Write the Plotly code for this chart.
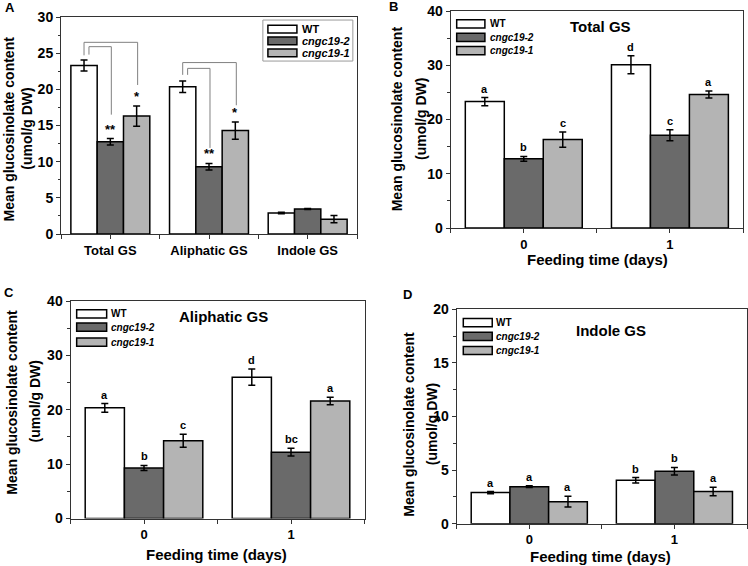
import plotly.graph_objects as go

# ---------------- data ----------------
genotypes = ["WT", "cngc19-2", "cngc19-1"]
bar_colors = ["#ffffff", "#6a6a6a", "#b4b4b4"]

a_categories = ["Total GS", "Aliphatic GS", "Indole GS"]
a_wt = [23.3, 20.35, 2.9]
a_c2 = [12.75, 9.3, 3.45]
a_c1 = [16.3, 14.3, 2.05]
a_wt_err = [0.75, 0.8, 0.1]
a_c2_err = [0.45, 0.45, 0.08]
a_c1_err = [1.4, 1.2, 0.5]
a_wt_mark = ["", "", ""]
a_c2_mark = ["**", "**", ""]
a_c1_mark = ["*", "*", ""]

days = ["0", "1"]

b_wt = [23.3, 30.1]
b_c2 = [12.75, 17.1]
b_c1 = [16.3, 24.6]
b_wt_err = [0.75, 1.65]
b_c2_err = [0.45, 1.0]
b_c1_err = [1.4, 0.65]
b_wt_mark = ["a", "d"]
b_c2_mark = ["b", "c"]
b_c1_mark = ["c", "a"]

c_wt = [20.35, 26.0]
c_c2 = [9.3, 12.2]
c_c1 = [14.3, 21.6]
c_wt_err = [0.8, 1.5]
c_c2_err = [0.45, 0.7]
c_c1_err = [1.2, 0.7]
c_wt_mark = ["a", "d"]
c_c2_mark = ["b", "bc"]
c_c1_mark = ["c", "a"]

d_wt = [2.9, 4.05]
d_c2 = [3.45, 4.9]
d_c1 = [2.05, 3.0]
d_wt_err = [0.1, 0.25]
d_c2_err = [0.08, 0.35]
d_c1_err = [0.5, 0.4]
d_wt_mark = ["a", "b"]
d_c2_mark = ["a", "b"]
d_c1_mark = ["a", "a"]

y_title_lines = ["Mean glucosinolate content", "(umol/g DW)"]
x_title = "Feeding time (days)"

# ---------------- layout constants ----------------
W, H = 748, 566
BARGAP = 0.2
BW = (1 - BARGAP) / 3
FONT = "Liberation Sans, Arial, sans-serif"


def px_x(p):
    return p / W


def px_y(p):
    return 1 - p / H


panels = [
    dict(key="A", xa="x", ya="y", cats=a_categories,
         series=[(a_wt, a_wt_err, a_wt_mark), (a_c2, a_c2_err, a_c2_mark), (a_c1, a_c1_err, a_c1_mark)],
         xdom=(61, 357), ydom=(17, 234), ymax=30, dtick=5, title=None, xtitle=None,
         ytitle=(8.5, 26.7, 129), letter=(10, 8), mark_size=13, mark_shift=0),
    dict(key="B", xa="x2", ya="y2", cats=days,
         series=[(b_wt, b_wt_err, b_wt_mark), (b_c2, b_c2_err, b_c2_mark), (b_c1, b_c1_err, b_c1_mark)],
         xdom=(450.7, 743), ydom=(11, 228), ymax=40, dtick=10, title=("Total GS", 0.513, 0.928),
         xtitle=(597.3, 260), ytitle=(397.3, 421.0, 119), letter=(393, 7), mark_size=11, mark_shift=1),
    dict(key="C", xa="x3", ya="y3", cats=days,
         series=[(c_wt, c_wt_err, c_wt_mark), (c_c2, c_c2_err, c_c2_mark), (c_c1, c_c1_err, c_c1_mark)],
         xdom=(70.5, 364.5), ydom=(301, 518.5), ymax=40, dtick=10, title=("Aliphatic GS", 0.522, 0.930),
         xtitle=(216.7, 554), ytitle=(11.7, 34.5, 402), letter=(9, 292), mark_size=11, mark_shift=1),
    dict(key="D", xa="x4", ya="y4", cats=days,
         series=[(d_wt, d_wt_err, d_wt_mark), (d_c2, d_c2_err, d_c2_mark), (d_c1, d_c1_err, d_c1_mark)],
         xdom=(456.7, 747), ydom=(309.3, 523.7), ymax=20, dtick=5, title=("Indole GS", 0.532, 0.903),
         xtitle=(600.7, 556.5), ytitle=(409.0, 431.5, 424.7), letter=(408, 294), mark_size=11, mark_shift=1),
]

fig = go.Figure()
annotations = []
shapes = []
layout_axes = {}

for pi, p in enumerate(panels):
    n = len(p["cats"])
    xs = list(range(n))
    for gi, (vals, errs, marks) in enumerate(p["series"]):
        fig.add_trace(go.Bar(
            x=xs, y=vals, name=genotypes[gi], offsetgroup=str(gi),
            xaxis=p["xa"], yaxis=p["ya"], showlegend=False,
            marker=dict(color=bar_colors[gi], line=dict(color="#000000", width=1.5)),
            error_y=dict(type="data", array=errs, visible=True, color="#000000",
                         thickness=1.5, width=3.5),
        ))
        for k in range(n):
            if marks[k]:
                annotations.append(dict(
                    x=k + (gi - 1) * BW, y=vals[k] + errs[k], xref=p["xa"], yref=p["ya"],
                    text="<b>%s</b>" % marks[k], showarrow=False, yanchor="bottom",
                    yshift=p["mark_shift"], font=dict(family=FONT, size=p["mark_size"], color="#000000"),
                ))

    xsuf = p["xa"][1:]
    ysuf = p["ya"][1:]
    x0, x1 = p["xdom"]
    yt, yb = p["ydom"]
    layout_axes["xaxis" + xsuf] = dict(
        domain=[px_x(x0), px_x(x1)], anchor=p["ya"], range=[-0.5, n - 0.5],
        tickmode="array", tickvals=xs, ticktext=p["cats"],
        ticks="outside", ticklen=4, tickwidth=1, tickcolor="#333333",
        minor=dict(ticks="outside", ticklen=4, tickwidth=1, tickcolor="#333333",
                   tickmode="array", tickvals=[k + 0.5 for k in range(-1, n)]),
        showline=True, linecolor="#333333", linewidth=1, mirror=True,
        showgrid=False, zeroline=False, fixedrange=True, automargin=False,
        tickfont=dict(family=FONT, size=13, color="#000000", weight="bold"),
    )
    layout_axes["yaxis" + ysuf] = dict(
        domain=[px_y(yb), px_y(yt)], anchor=p["xa"], range=[0, p["ymax"]],
        tickmode="linear", tick0=0, dtick=p["dtick"],
        ticks="outside", ticklen=4, tickwidth=1, tickcolor="#333333",
        minor=dict(ticks="outside", ticklen=2.5, tickwidth=1, tickcolor="#333333",
                   dtick=p["dtick"] / 2, tick0=0),
        showline=True, linecolor="#333333", linewidth=1, mirror=True,
        showgrid=False, zeroline=False, fixedrange=True, automargin=False,
        tickfont=dict(family=FONT, size=14, color="#000000", weight="bold"),
    )

    # x title
    if p["xtitle"]:
        tx_, ty_ = p["xtitle"]
        annotations.append(dict(
            x=px_x(tx_), y=px_y(ty_), xref="paper", yref="paper",
            text="<b>%s</b>" % x_title, showarrow=False, xanchor="center", yanchor="middle",
            font=dict(family=FONT, size=15, color="#000000"),
        ))
    # y title (two lines)
    l1x, l2x, yc_ = p["ytitle"]
    for lx_, line in zip((l1x, l2x), y_title_lines):
        annotations.append(dict(
            x=px_x(lx_), y=px_y(yc_), xref="paper", yref="paper",
            text="<b>%s</b>" % line, textangle=-90,
            showarrow=False, xanchor="center", yanchor="middle",
            font=dict(family=FONT, size=14, color="#000000"),
        ))
    # panel letter
    lx, ly = p["letter"]
    annotations.append(dict(
        x=px_x(lx), y=px_y(ly), xref="paper", yref="paper", text="<b>%s</b>" % p["key"],
        showarrow=False, xanchor="center", yanchor="middle",
        font=dict(family=FONT, size=13, color="#000000"),
    ))
    # inner title
    if p["title"]:
        t, tx, ty = p["title"]
        annotations.append(dict(
            x=tx, y=ty, xref=p["xa"] + " domain", yref=p["ya"] + " domain",
            text="<b>%s</b>" % t, showarrow=False, xanchor="center", yanchor="middle",
            font=dict(family=FONT, size=15, color="#000000"),
        ))

    # legend (manual)
    leg = {
        "A": dict(sx=(0.699, 0.797), tx=0.808, ys=(0.944, 0.890, 0.835), h=0.018, size=11),
        "B": dict(sx=(0.0205, 0.117), tx=0.126, ys=(0.941, 0.878, 0.817), h=0.019, size=10),
        "C": dict(sx=(0.021, 0.123), tx=0.131, ys=(0.941, 0.880, 0.811), h=0.019, size=10),
        "D": dict(sx=(0.0227, 0.1224), tx=0.130, ys=(0.938, 0.874, 0.808), h=0.019, size=10),
    }[p["key"]]
    for gi, g in enumerate(genotypes):
        yc = leg["ys"][gi]
        shapes.append(dict(
            type="rect", xref=p["xa"] + " domain", yref=p["ya"] + " domain",
            x0=leg["sx"][0], x1=leg["sx"][1], y0=yc - leg["h"], y1=yc + leg["h"],
            fillcolor=bar_colors[gi], line=dict(color="#000000", width=1.5),
        ))
        label = "<b>%s</b>" % g if g == "WT" else "<b><i>%s</i></b>" % g
        annotations.append(dict(
            x=leg["tx"], y=yc, xref=p["xa"] + " domain", yref=p["ya"] + " domain",
            text=label, showarrow=False, xanchor="left", yanchor="middle",
            font=dict(family=FONT, size=leg["size"], color="#000000"),
        ))
    if p["key"] == "A":
        shapes.append(dict(
            type="rect", xref="x domain", yref="y domain",
            x0=0.682, x1=0.986, y0=0.797, y1=0.986,
            fillcolor="rgba(0,0,0,0)", line=dict(color="#9a9a9a", width=1),
        ))

# significance brackets in panel A: (category, target genotype index, dx start, y start, y top, y end)
brackets = [
    (0, 2, 0.0, 24.7, 26.5, 20.6),
    (0, 1, 0.05, 24.8, 25.9, 16.5),
    (1, 2, 0.0, 22.0, 23.7, 17.8),
    (1, 1, 0.05, 22.0, 22.9, 11.9),
]
for cat, tgt, dx, ys, ytop, ye in brackets:
    xa = cat - BW + dx
    xb = cat + (tgt - 1) * BW + 0.01
    fig.add_trace(go.Scatter(
        x=[xa, xa, xb, xb], y=[ys, ytop, ytop, ye], mode="lines",
        line=dict(color="#808080", width=1), xaxis="x", yaxis="y",
        showlegend=False, hoverinfo="skip",
    ))

fig.update_layout(
    width=W, height=H, margin=dict(l=0, r=0, t=0, b=0, autoexpand=False),
    paper_bgcolor="#ffffff", plot_bgcolor="#ffffff",
    barmode="group", bargap=BARGAP, bargroupgap=0,
    showlegend=False, annotations=annotations, shapes=shapes,
    font=dict(family=FONT, color="#000000"),
    **layout_axes,
)

fig.write_html(
    "out.html",
    config={"displayModeBar": False},
    post_script="document.body.style.margin='0';document.body.style.overflow='hidden';",
)
